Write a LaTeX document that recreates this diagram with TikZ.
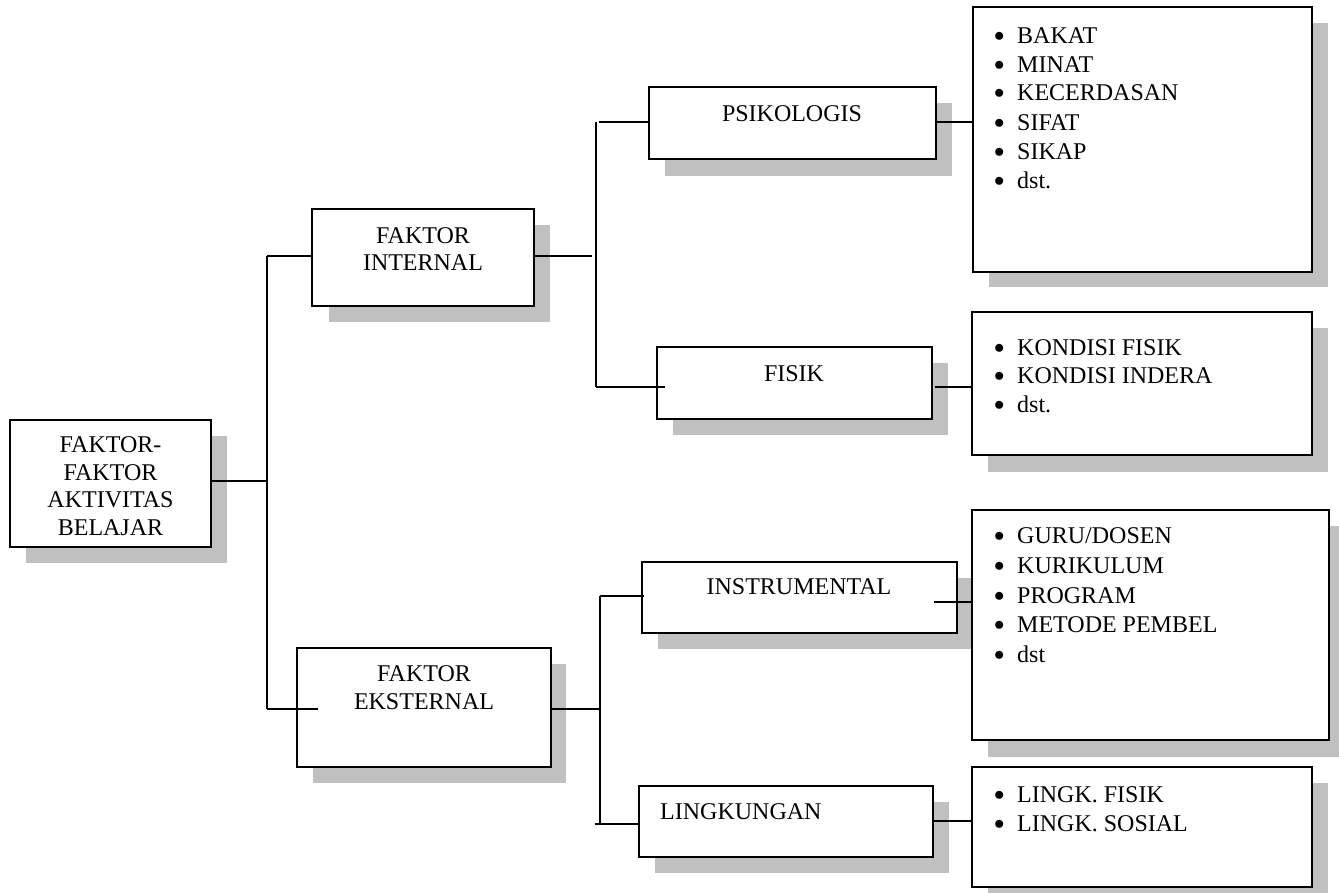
\documentclass[tikz,border=0pt]{standalone}
\usepackage{fontspec}
\setmainfont{Liberation Serif}
\usetikzlibrary{fit}
\definecolor{shadowgray}{RGB}{192,192,192}
\begin{document}
\begin{tikzpicture}[x=1pt,y=-1pt,
  box/.style={draw=black, fill=white, line width=1.8pt, inner sep=0pt},
  shade/.style={fill=shadowgray, draw=none},
  txt/.style={inner sep=0pt, anchor=base, font=\fontsize{24}{28}\selectfont},
  txtl/.style={inner sep=0pt, anchor=base west, font=\fontsize{24}{28}\selectfont},
  itm/.style={inner sep=0pt, anchor=base west, font=\fontsize{24}{28}\selectfont},
  conn/.style={line width=1.8pt}]
\useasboundingbox (0,0) rectangle (1339,892);

% shadows
\fill[shade] (26,436) rectangle (227,563);
\fill[shade] (329,225) rectangle (550,322);
\fill[shade] (313,664) rectangle (566,783);
\fill[shade] (665,103) rectangle (952,176);
\fill[shade] (673,363) rectangle (948,435);
\fill[shade] (658,578) rectangle (972,649);
\fill[shade] (655,802) rectangle (949,873);
\fill[shade] (989,23) rectangle (1328,287);
\fill[shade] (988,328) rectangle (1328,472);
\fill[shade] (988,526) rectangle (1345,757);
\fill[shade] (988,783) rectangle (1328,903);

% corner coordinates
\coordinate (rootA) at (10,420);  \coordinate (rootB) at (211,547);
\coordinate (intA) at (312,209);  \coordinate (intB) at (534,306);
\coordinate (eksA) at (297,648);  \coordinate (eksB) at (551,767);
\coordinate (psiA) at (649,87);   \coordinate (psiB) at (936,159);
\coordinate (fisA) at (657,347);  \coordinate (fisB) at (932,419);
\coordinate (insA) at (642,562);  \coordinate (insB) at (957,633);
\coordinate (linA) at (639,786);  \coordinate (linB) at (933,857);
\coordinate (lbakA) at (973,7);   \coordinate (lbakB) at (1312,272);
\coordinate (lfisA) at (972,312); \coordinate (lfisB) at (1312,455);
\coordinate (lgurA) at (972,510); \coordinate (lgurB) at (1329,740);
\coordinate (llinA) at (972,767); \coordinate (llinB) at (1312,887);

% boxes
\node[box, fit=(rootA)(rootB)] (root) {};
\node[box, fit=(intA)(intB)] (int) {};
\node[box, fit=(eksA)(eksB)] (eks) {};
\node[box, fit=(psiA)(psiB)] (psi) {};
\node[box, fit=(fisA)(fisB)] (fis) {};
\node[box, fit=(insA)(insB)] (ins) {};
\node[box, fit=(linA)(linB)] (lin) {};
\node[box, fit=(lbakA)(lbakB)] (lbak) {};
\node[box, fit=(lfisA)(lfisB)] (lfis) {};
\node[box, fit=(lgurA)(lgurB)] (lgur) {};
\node[box, fit=(llinA)(llinB)] (llin) {};

% box texts
\node[txt] (r1) at (110.5,452) {FAKTOR-};
\node[txt] (r2) at (110.5,480) {FAKTOR};
\node[txt] (r3) at (110.5,507) {AKTIVITAS};
\node[txt] (r4) at (110.5,535) {BELAJAR};
\node[txt] (i1) at (423,243) {FAKTOR};
\node[txt] (i2) at (423,270) {INTERNAL};
\node[txt] (e1) at (424,681) {FAKTOR};
\node[txt] (e2) at (424,709) {EKSTERNAL};
\node[txt] (p1) at (792,121) {PSIKOLOGIS};
\node[txt] (f1) at (794,381) {FISIK};
\node[txt] (n1) at (799,594) {INSTRUMENTAL};
\node[txtl] (g1) at (660,819) {LINGKUNGAN};

% lists
\newcommand{\bul}{\makebox[23pt][l]{\raisebox{1.5pt}{\fontsize{20}{20}\selectfont$\bullet$}}}
\node[itm] (b1) at (994,43) {\bul BAKAT};
\node[itm] (b2) at (994,72) {\bul MINAT};
\node[itm] (b3) at (994,100) {\bul KECERDASAN};
\node[itm] (b4) at (994,130) {\bul SIFAT};
\node[itm] (b5) at (994,159) {\bul SIKAP};
\node[itm] (b6) at (994,188) {\bul dst.};
\node[itm] (k1) at (994,355) {\bul KONDISI FISIK};
\node[itm] (k2) at (994,383) {\bul KONDISI INDERA};
\node[itm] (k3) at (994,412) {\bul dst.};
\node[itm] (u1) at (994,543) {\bul GURU/DOSEN};
\node[itm] (u2) at (994,573) {\bul KURIKULUM};
\node[itm] (u3) at (994,603) {\bul PROGRAM};
\node[itm] (u4) at (994,632) {\bul METODE PEMBEL};
\node[itm] (u5) at (994,662) {\bul dst};
\node[itm] (l1) at (994,802) {\bul LINGK. FISIK};
\node[itm] (l2) at (994,831) {\bul LINGK. SOSIAL};

% connector coordinates
\coordinate (j0) at (267,481);
\coordinate (v1t) at (267,256);
\coordinate (v1b) at (267,709);
\coordinate (eksIn) at (318,709);
\coordinate (v2t) at (596,122);
\coordinate (v2b) at (596,387);
\coordinate (v2s) at (599,122);
\coordinate (v2m) at (592,256);
\coordinate (fisIn) at (665,387);
\coordinate (fisOut) at (935,387);
\coordinate (v3t) at (600,596);
\coordinate (v3b) at (600,824);
\coordinate (v3m) at (600,709);
\coordinate (insIn) at (644,596);
\coordinate (v3s) at (595,824);
\coordinate (insOut) at (934,602);
\coordinate (linOut) at (933,821);

% connectors
\draw[conn] (root.east |- j0) -- (j0);
\draw[conn] (v1t) -- (v1b);
\draw[conn] (v1t) -- (v1t -| int.west);
\draw[conn] (v1b) -- (eksIn);
\draw[conn] (int.east |- v2m) -- (v2m);
\draw[conn] (v2t) -- (v2b);
\draw[conn] (v2s) -- (v2s -| psi.west);
\draw[conn] (v2b) -- (fisIn);
\draw[conn] (psi.east |- v2t) -- (v2t -| lbak.west);
\draw[conn] (fisOut) -- (fisOut -| lfis.west);
\draw[conn] (eks.east |- v3m) -- (v3m);
\draw[conn] (v3t) -- (v3b);
\draw[conn] (v3t) -- (insIn);
\draw[conn] (v3s) -- (v3s -| lin.west);
\draw[conn] (insOut) -- (insOut -| lgur.west);
\draw[conn] (lin.east |- linOut) -- (linOut -| llin.west);
\end{tikzpicture}
\end{document}
